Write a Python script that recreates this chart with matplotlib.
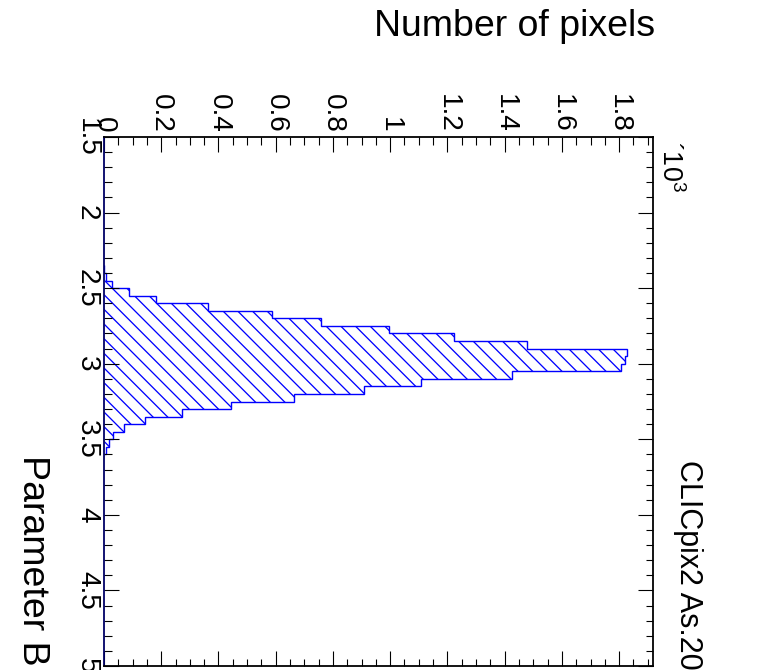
#!/usr/bin/env python3

# Parameter B distribution of CLICpix2 pixels, drawn lying on its side
# (parameter axis running down the left, pixel counts along the top).

import numpy as np
import matplotlib
matplotlib.use('Agg')
import matplotlib.pyplot as plt
from matplotlib.ticker import MultipleLocator, FuncFormatter

# histogram: first bin edge, bin width and pixel counts per bin
bin_start = 2.35
bin_width = 0.05
counts = [1, 6, 29, 88, 183, 365, 588, 757, 996, 1224, 1479, 1827, 1820,
          1806, 1425, 1108, 910, 663, 445, 271, 145, 71, 32, 18, 8]

param_range = (1.5, 5.0)
title = 'CLICpix2 As.20'
xtitle = 'Parameter B'
ytitle = 'Number of pixels'

# hatch spacing follows the dpi, so pick it for the line density
DPI = 88.
W, H = 774, 670


def px(v):
    # sizes below are given in output pixels
    return v * 72. / DPI


plt.rcParams['font.family'] = ['Liberation Sans', 'DejaVu Sans']
plt.rcParams['mathtext.fontset'] = 'custom'
plt.rcParams['mathtext.rm'] = 'Liberation Sans'
plt.rcParams['hatch.linewidth'] = px(1.3)

fig = plt.figure(figsize=(W / DPI, H / DPI), dpi=DPI)
fig.patch.set_facecolor('white')

# frame in pixels: left 104, right 653, top 137, bottom 666
ax = fig.add_axes([104. / W, (H - 666.) / H, (653. - 104.) / W, (666. - 137.) / H])

edges = np.round(bin_start + bin_width * np.arange(len(counts) + 1), 3)
vals = np.array(counts) / 1000.

ax.stairs(vals, edges, orientation='horizontal', fill=True,
          facecolor='none', edgecolor='#0000ff', hatch='\\\\',
          linewidth=px(1.4))

ax.set_ylim(param_range[1], param_range[0])
ax.set_xlim(0, 1.05 * vals.max())

fmt = FuncFormatter(lambda v, pos: '%g' % round(v, 3))
ax.xaxis.set_major_locator(MultipleLocator(0.2))
ax.xaxis.set_minor_locator(MultipleLocator(0.05))
ax.yaxis.set_major_locator(MultipleLocator(0.5))
ax.yaxis.set_minor_locator(MultipleLocator(0.1))
ax.xaxis.set_major_formatter(fmt)
ax.yaxis.set_major_formatter(fmt)

ax.tick_params(which='both', direction='in', top=True, bottom=True,
               left=True, right=True, labeltop=True, labelbottom=False,
               labelleft=True, labelright=False, width=px(1.1), color='black')
ax.tick_params(which='major', length=px(15))
ax.tick_params(which='minor', length=px(7.5))
ax.tick_params(axis='both', which='major', labelsize=px(28), pad=px(4),
               labelrotation=-90)
for lab in ax.get_yticklabels():
    lab.set_va('center')
for lab in ax.get_xticklabels():
    lab.set_ha('center')

for side in ['top', 'bottom', 'right', 'left']:
    ax.spines[side].set_linewidth(px(1.8))
ax.spines['left'].set_color('#000066')

# axis titles and the multiplier, placed in figure pixels
fig.text(655. / W, 1 - 27. / H, ytitle, ha='right', va='center',
         fontsize=px(37.5))
fig.text(32. / W, 1 - 455. / H, xtitle, ha='center', va='top',
         rotation=-90, fontsize=px(37.5))
fig.text(688. / W, 1 - 460. / H, title, ha='center', va='top',
         rotation=-90, fontsize=px(30.5))
fig.text(656. / W, 1 - 141. / H, u'\u00b410$^{3}$', ha='left', va='top',
         rotation=-90, fontsize=px(27))

fig.savefig('out.png', dpi=DPI, facecolor='white')
